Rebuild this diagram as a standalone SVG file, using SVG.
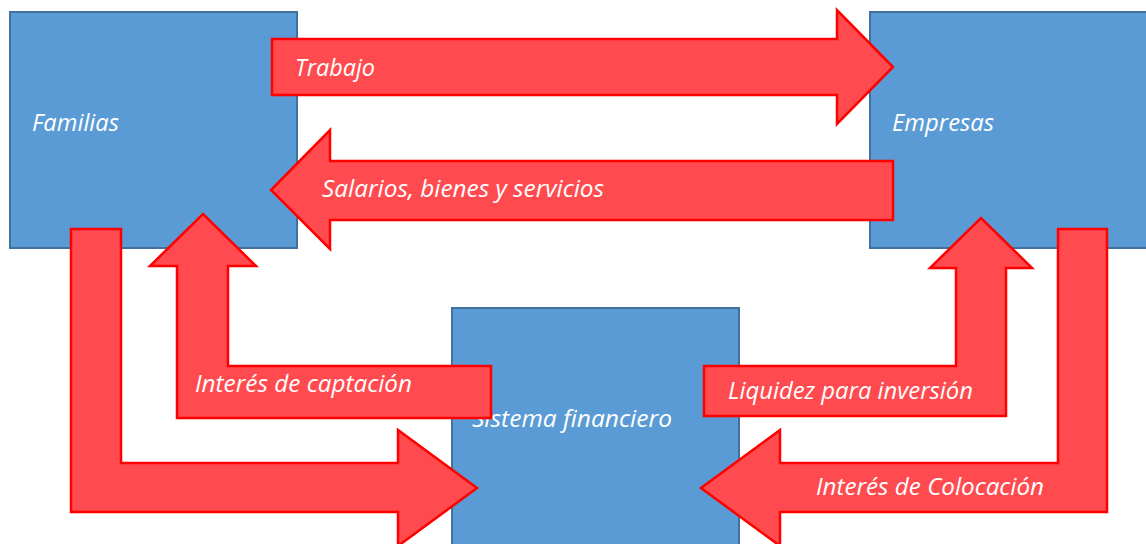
<svg xmlns="http://www.w3.org/2000/svg" width="1146" height="544" viewBox="0 0 1146 544">
<style>
.box{fill:#5B9BD5;stroke:#41719C;stroke-width:2}
.arr{fill:#FF4B4F;stroke:#FF0000;stroke-width:2.5;stroke-linejoin:miter}
.t{font-family:"Open Sans","Liberation Sans",sans-serif;font-style:italic;font-size:23.5px;fill:#FFFFFF}
</style>
<rect width="1146" height="544" fill="#FFFFFF"/>
<g id="familias">
<rect class="box" x="10" y="12" width="287" height="236"/>
<text class="t" x="32" y="131" textLength="87" lengthAdjust="spacingAndGlyphs">Familias</text>
</g>
<g id="empresas">
<rect class="box" x="870" y="12" width="287" height="236"/>
<text class="t" x="892" y="131" textLength="102" lengthAdjust="spacingAndGlyphs">Empresas</text>
</g>
<g id="sistema">
<rect class="box" x="452" y="308" width="287" height="250"/>
<text class="t" x="472" y="427" textLength="200" lengthAdjust="spacingAndGlyphs">Sistema financiero</text>
</g>
<g id="connectors">
<g id="trabajo">
<path class="arr" d="M272,39 L837,39 L837,10 L893,67 L837,124 L837,95 L272,95 Z"/>
<text class="t" x="295" y="76" textLength="80" lengthAdjust="spacingAndGlyphs">Trabajo</text>
</g>
<g id="salarios">
<path class="arr" d="M893,161 L330,161 L330,130 L271,190 L330,249 L330,220 L893,220 Z"/>
<text class="t" x="322" y="197" textLength="282" lengthAdjust="spacingAndGlyphs">Salarios, bienes y servicios</text>
</g>
<g id="captacion">
<path class="arr" d="M177,418 L177,266 L150,266 L203,214 L256,266 L228,266 L228,366 L491,366 L491,418 Z"/>
<text class="t" x="195" y="392" textLength="217" lengthAdjust="spacingAndGlyphs">Interés de captación</text>
</g>
<g id="ahorro">
<path class="arr" d="M71,229 L121,229 L121,463 L398,463 L398,430 L477,488 L398,546 L398,512 L71,512 Z"/>
</g>
<g id="liquidez">
<path class="arr" d="M704,366 L956,366 L956,268 L930,268 L981,218 L1032,268 L1006,268 L1006,416 L704,416 Z"/>
<text class="t" x="728" y="399" textLength="245" lengthAdjust="spacingAndGlyphs">Liquidez para inversión</text>
</g>
<g id="colocacion">
<path class="arr" d="M1107,229 L1058,229 L1058,463 L780,463 L780,430 L701,488 L780,546 L780,512 L1107,512 Z"/>
<text class="t" x="816" y="495" textLength="228" lengthAdjust="spacingAndGlyphs">Interés de Colocación</text>
</g>
</g>
</svg>
